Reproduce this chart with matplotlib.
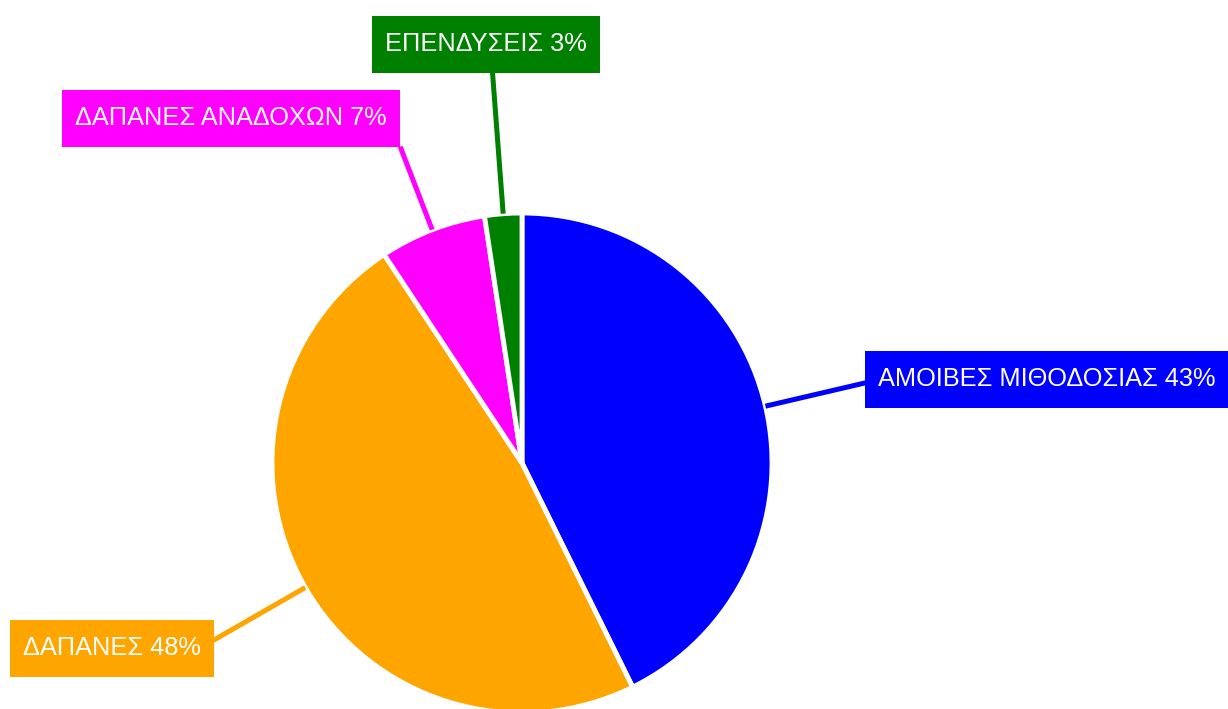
import numpy as np
import matplotlib.pyplot as plt
from matplotlib.patches import Rectangle

# data
labels = ['ΑΜΟΙΒΕΣ ΜΙΘΟΔΟΣΙΑΣ', 'ΔΑΠΑΝΕΣ', 'ΔΑΠΑΝΕΣ ΑΝΑΔΟΧΩΝ', 'ΕΠΕΝΔΥΣΕΙΣ']
values = [42.7, 48.0, 6.9, 2.4]
pct_text = ['43%', '48%', '7%', '3%']
colors = ['#0000ff', '#ffa500', '#ff00ff', '#008000']

# layout (pixel coords, y up)
W, H = 1228, 709
cx, cy, R = 522, 246, 250
box_centers = [(1047, 330), (112, 61), (231, 591), (486, 665)]
line_len = [356, 359, 339, 392]
pad_x, box_h = 13, 57

plt.rcParams['font.family'] = ['Liberation Sans', 'DejaVu Sans']

fig = plt.figure(figsize=(W / 100, H / 100), dpi=100)
ax = fig.add_axes([0, 0, 1, 1])

wedges, _ = ax.pie(values, colors=colors, startangle=90, counterclock=False,
                   center=(cx, cy), radius=R,
                   wedgeprops=dict(edgecolor='white', linewidth=3.5))
ax.set_xlim(0, W)
ax.set_ylim(0, H)
ax.set_aspect('equal')
ax.axis('off')

texts = []
for i, w in enumerate(wedges):
    ang = np.deg2rad((w.theta1 + w.theta2) / 2)
    x0, y0 = cx + R * np.cos(ang), cy + R * np.sin(ang)
    x1, y1 = cx + line_len[i] * np.cos(ang), cy + line_len[i] * np.sin(ang)
    ax.plot([x0, x1], [y0, y1], color=colors[i], lw=3.6, solid_capstyle='butt', zorder=1)
    bx, by = box_centers[i]
    t = ax.text(bx, by, labels[i] + ' ' + pct_text[i], color='white', fontsize=18.3,
                ha='center', va='center', zorder=3)
    texts.append(t)

# boxes sized from the rendered text width
fig.canvas.draw()
r = fig.canvas.get_renderer()
for i, t in enumerate(texts):
    tw = t.get_window_extent(r).width
    bx, by = box_centers[i]
    ax.add_patch(Rectangle((bx - tw / 2 - pad_x, by - box_h / 2), tw + 2 * pad_x, box_h,
                           fc=colors[i], ec='none', zorder=2))

fig.savefig('out.png', dpi=100)
